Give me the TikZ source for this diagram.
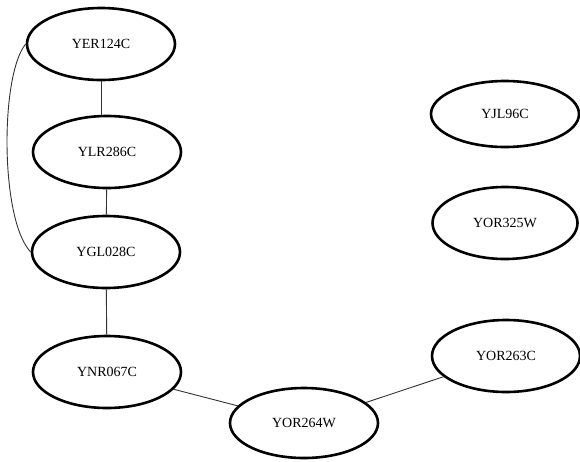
\documentclass[tikz,border=0pt]{standalone}
\usepackage{fontspec}
\setmainfont{Liberation Serif}
\usetikzlibrary{shapes.geometric}
\tikzset{
  gene/.style={ellipse, draw=black, line width=2.6pt, inner sep=0pt,
    minimum width=148pt, minimum height=72pt, font=\fontsize{14}{16}\selectfont},
  link/.style={draw=black!80, line width=0.9pt}
}
\begin{document}
\begin{tikzpicture}[x=1pt,y=-1pt]
\useasboundingbox (0,0) rectangle (580,461);
\node[gene] (yer) at (101,44) {YER124C};
\node[gene] (ylr) at (107,152) {YLR286C};
\node[gene] (ygl) at (106,252) {YGL028C};
\node[gene] (ynr) at (107,372) {YNR067C};
\node[gene, minimum height=70pt] (y264) at (304,423) {YOR264W};
\node[gene] (y263) at (506,356) {YOR263C};
\node[gene, minimum height=66pt] (yjl) at (505,114) {YJL96C};
\node[gene, minimum width=145pt] (y325) at (505,223) {YOR325W};
\draw[link] (yer) -- (yer |- ylr.north);
\draw[link] (ylr) -- (ygl);
\draw[link] (ygl) -- (ynr);
\draw[link] (ynr) -- (y264);
\draw[link] (y264) -- (y263);
\draw[link] (yer.west) .. controls (0,75) and (0,220) .. (ygl.west);
\end{tikzpicture}
\end{document}
